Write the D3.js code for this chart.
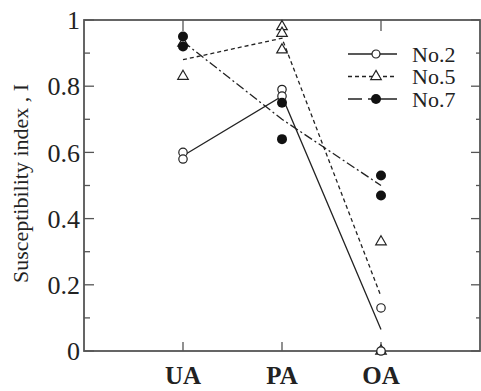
<!DOCTYPE html>
<html>
<head>
<meta charset="utf-8">
<script src="https://cdn.jsdelivr.net/npm/d3@7"></script>
<style>
  body { margin: 0; background: #fff; }
  text { font-family: "Liberation Serif", "Times New Roman", serif; fill: #222; }
</style>
</head>
<body>
<div id="chart"></div>
<script>
// categories and values
const categories = ["UA", "PA", "OA"];
const yTicks = [0, 0.2, 0.4, 0.6, 0.8, 1];
const yTickLabels = ["0", "0.2", "0.4", "0.6", "0.8", "1"];

// replicate points per category
const no2Points = [[0.60, 0.58], [0.79, 0.77], [0.13, 0.00]];
const no5Points = [[0.93, 0.83], [0.98, 0.96, 0.91], [0.33, 0.00]];
const no7Points = [[0.95, 0.92], [0.75, 0.64], [0.53, 0.47]];

// connecting line values
const no2Line = [0.59, 0.77, 0.065];
const no5Line = [0.88, 0.945, 0.165];
const no7Line = [0.935, 0.70, 0.50];

const seriesNames = ["No.2", "No.5", "No.7"];

const W = 481, H = 391;
const margin = {top: 20, right: 1, bottom: 40, left: 84};
const width = W - margin.left - margin.right,
      height = H - margin.top - margin.bottom;

const x = d3.scalePoint().domain(categories).range([0, width]).padding(1);
const y = d3.scaleLinear().domain([0, 1]).range([height, 0]);

const svg = d3.select("#chart").append("svg")
    .attr("width", W)
    .attr("height", H)
  .append("g")
    .attr("transform", "translate(" + margin.left + "," + margin.top + ")");

const axisColor = "#555";

// frame
svg.append("rect")
   .attr("width", width).attr("height", height)
   .attr("fill", "none").attr("stroke", axisColor).attr("stroke-width", 1.8);

// left axis: major labelled ticks, minor ticks
const minor = d3.range(1, 10, 2).map(d => d / 10);
const left = svg.append("g");
left.selectAll("line.maj").data(yTicks).enter().append("line")
    .attr("x1", 0).attr("x2", 10)
    .attr("y1", d => y(d)).attr("y2", d => y(d))
    .attr("stroke", axisColor).attr("stroke-width", 1.3);
left.selectAll("line.min").data(minor).enter().append("line")
    .attr("x1", 0).attr("x2", 6)
    .attr("y1", d => y(d)).attr("y2", d => y(d))
    .attr("stroke", axisColor).attr("stroke-width", 1.3);
left.selectAll("text").data(yTicks).enter().append("text")
    .attr("x", -4).attr("y", d => y(d))
    .attr("dy", "0.35em")
    .attr("text-anchor", "end")
    .style("font-size", "26px")
    .text((d, i) => yTickLabels[i]);

// right axis ticks (no labels)
const right = svg.append("g");
right.selectAll("line.maj").data(yTicks).enter().append("line")
    .attr("x1", width).attr("x2", width - 9)
    .attr("y1", d => y(d)).attr("y2", d => y(d))
    .attr("stroke", axisColor).attr("stroke-width", 1.3);
right.selectAll("line.min").data(minor).enter().append("line")
    .attr("x1", width).attr("x2", width - 4)
    .attr("y1", d => y(d)).attr("y2", d => y(d))
    .attr("stroke", axisColor).attr("stroke-width", 1.3);

// x ticks, bottom and top
svg.selectAll("line.xb").data(categories).enter().append("line")
   .attr("x1", d => x(d)).attr("x2", d => x(d))
   .attr("y1", height).attr("y2", height - 9)
   .attr("stroke", axisColor).attr("stroke-width", 1.3);
svg.selectAll("line.xt").data(categories).enter().append("line")
   .attr("x1", d => x(d)).attr("x2", d => x(d))
   .attr("y1", 0).attr("y2", 11)
   .attr("stroke", axisColor).attr("stroke-width", 1.3);
svg.selectAll("text.xl").data(categories).enter().append("text")
   .attr("x", d => x(d)).attr("y", height + 33)
   .attr("text-anchor", "middle")
   .style("font-size", "25px")
   .style("font-weight", "bold")
   .text(d => d);

// y axis title
svg.append("text")
   .attr("text-anchor", "middle")
   .attr("transform", "translate(" + (-56) + "," + (height / 2 - 2) + ")rotate(-90)")
   .style("font-size", "22px")
   .text("Susceptibility index , I");

// lines
const line = d3.line().x((d, i) => x(categories[i])).y(d => y(d));
const lineStyles = [null, "4,3", "9,3,2,3"];
[no2Line, no5Line, no7Line].forEach((vals, k) => {
  svg.append("path")
     .datum(vals)
     .attr("d", line)
     .attr("fill", "none")
     .attr("stroke", "#222")
     .attr("stroke-width", 1.3)
     .attr("stroke-dasharray", lineStyles[k]);
});

// markers
const tri = d3.symbol().type(d3.symbolTriangle).size(48);
function flat(points) {
  const out = [];
  points.forEach((vals, i) => vals.forEach(v => out.push({c: categories[i], v: v})));
  return out;
}
svg.selectAll("path.t5").data(flat(no5Points)).enter().append("path")
   .attr("d", tri)
   .attr("transform", d => "translate(" + x(d.c) + "," + y(d.v) + ")")
   .attr("fill", "#fff").attr("stroke", "#222").attr("stroke-width", 1.2);
svg.selectAll("circle.c2").data(flat(no2Points)).enter().append("circle")
   .attr("cx", d => x(d.c)).attr("cy", d => y(d.v)).attr("r", 4.2)
   .attr("fill", "#fff").attr("stroke", "#222").attr("stroke-width", 1.2);
svg.selectAll("circle.c7").data(flat(no7Points)).enter().append("circle")
   .attr("cx", d => x(d.c)).attr("cy", d => y(d.v)).attr("r", 5)
   .attr("fill", "#111");

// legend
const lg = svg.append("g").attr("transform", "translate(" + (348 - margin.left) + "," + (54 - margin.top) + ")");
seriesNames.forEach((name, k) => {
  const g = lg.append("g").attr("transform", "translate(0," + (k * 22.5) + ")");
  g.append("line")
   .attr("x1", 0).attr("x2", 49).attr("y1", 0).attr("y2", 0)
   .attr("stroke", "#222").attr("stroke-width", 1.3)
   .attr("stroke-dasharray", k === 2 ? "14,6,40" : lineStyles[k]);
  if (k === 0) {
    g.append("circle").attr("cx", 28).attr("cy", 0).attr("r", 4)
     .attr("fill", "#fff").attr("stroke", "#222").attr("stroke-width", 1.2);
  } else if (k === 1) {
    g.append("path").attr("d", tri).attr("transform", "translate(28,0)")
     .attr("fill", "#fff").attr("stroke", "#222").attr("stroke-width", 1.2);
  } else {
    g.append("circle").attr("cx", 28).attr("cy", 0).attr("r", 5).attr("fill", "#111");
  }
  g.append("text")
   .attr("x", 64).attr("y", 0).attr("dy", "0.35em")
   .style("font-size", "22px")
   .text(name);
});
</script>
</body>
</html>
